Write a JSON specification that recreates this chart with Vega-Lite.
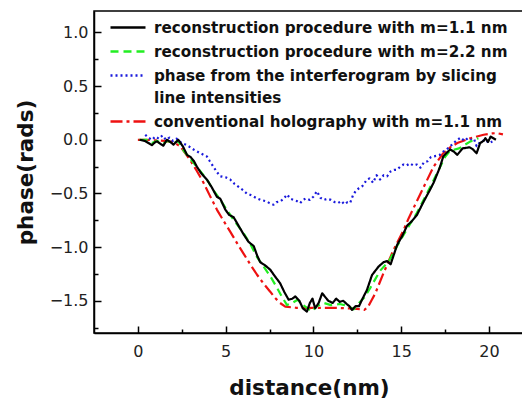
{
  "$schema": "https://vega.github.io/schema/vega-lite/v6.json",
  "width": 430,
  "height": 322,
  "autosize": {"type": "none"},
  "padding": {"left": 94, "top": 11, "right": 0, "bottom": 67},
  "config": {
    "view": {"stroke": "#000000", "strokeWidth": 1.5},
    "font": "DejaVu Sans"
  },
  "datasets": {
    "curves": [
      {"s": "conventional holography with m=1.1 nm", "x": 0, "y": 0},
      {"s": "conventional holography with m=1.1 nm", "x": 0.5, "y": 0},
      {"s": "conventional holography with m=1.1 nm", "x": 1.0, "y": -0.005},
      {"s": "conventional holography with m=1.1 nm", "x": 1.5, "y": -0.01},
      {"s": "conventional holography with m=1.1 nm", "x": 2.0, "y": -0.02},
      {"s": "conventional holography with m=1.1 nm", "x": 2.41, "y": -0.06},
      {"s": "conventional holography with m=1.1 nm", "x": 2.98, "y": -0.19},
      {"s": "conventional holography with m=1.1 nm", "x": 3.36, "y": -0.29},
      {"s": "conventional holography with m=1.1 nm", "x": 3.74, "y": -0.4},
      {"s": "conventional holography with m=1.1 nm", "x": 4.1, "y": -0.52},
      {"s": "conventional holography with m=1.1 nm", "x": 4.5, "y": -0.65},
      {"s": "conventional holography with m=1.1 nm", "x": 4.9, "y": -0.76},
      {"s": "conventional holography with m=1.1 nm", "x": 5.26, "y": -0.855},
      {"s": "conventional holography with m=1.1 nm", "x": 5.64, "y": -0.96},
      {"s": "conventional holography with m=1.1 nm", "x": 6.02, "y": -1.06},
      {"s": "conventional holography with m=1.1 nm", "x": 6.4, "y": -1.16},
      {"s": "conventional holography with m=1.1 nm", "x": 6.78, "y": -1.255},
      {"s": "conventional holography with m=1.1 nm", "x": 7.16, "y": -1.34},
      {"s": "conventional holography with m=1.1 nm", "x": 7.54, "y": -1.415},
      {"s": "conventional holography with m=1.1 nm", "x": 7.8, "y": -1.47},
      {"s": "conventional holography with m=1.1 nm", "x": 8.1, "y": -1.52},
      {"s": "conventional holography with m=1.1 nm", "x": 8.4, "y": -1.555},
      {"s": "conventional holography with m=1.1 nm", "x": 9.0, "y": -1.565},
      {"s": "conventional holography with m=1.1 nm", "x": 10.0, "y": -1.565},
      {"s": "conventional holography with m=1.1 nm", "x": 11.0, "y": -1.565},
      {"s": "conventional holography with m=1.1 nm", "x": 12.0, "y": -1.57},
      {"s": "conventional holography with m=1.1 nm", "x": 12.5, "y": -1.575},
      {"s": "conventional holography with m=1.1 nm", "x": 12.9, "y": -1.585},
      {"s": "conventional holography with m=1.1 nm", "x": 13.1, "y": -1.56},
      {"s": "conventional holography with m=1.1 nm", "x": 13.3, "y": -1.5},
      {"s": "conventional holography with m=1.1 nm", "x": 13.53, "y": -1.43},
      {"s": "conventional holography with m=1.1 nm", "x": 14.0, "y": -1.24},
      {"s": "conventional holography with m=1.1 nm", "x": 14.57, "y": -1.025},
      {"s": "conventional holography with m=1.1 nm", "x": 15.14, "y": -0.84},
      {"s": "conventional holography with m=1.1 nm", "x": 15.43, "y": -0.73},
      {"s": "conventional holography with m=1.1 nm", "x": 15.9, "y": -0.57},
      {"s": "conventional holography with m=1.1 nm", "x": 16.3, "y": -0.435},
      {"s": "conventional holography with m=1.1 nm", "x": 16.85, "y": -0.25},
      {"s": "conventional holography with m=1.1 nm", "x": 17.4, "y": -0.125},
      {"s": "conventional holography with m=1.1 nm", "x": 17.8, "y": -0.07},
      {"s": "conventional holography with m=1.1 nm", "x": 18.2, "y": -0.03},
      {"s": "conventional holography with m=1.1 nm", "x": 18.95, "y": 0.015},
      {"s": "conventional holography with m=1.1 nm", "x": 19.7, "y": 0.047},
      {"s": "conventional holography with m=1.1 nm", "x": 20.2, "y": 0.06},
      {"s": "conventional holography with m=1.1 nm", "x": 20.47, "y": 0.062},
      {"s": "conventional holography with m=1.1 nm", "x": 20.8, "y": 0.05},

      {"s": "phase from the interferogram by slicing line intensities", "x": 0.42, "y": 0.047},
      {"s": "phase from the interferogram by slicing line intensities", "x": 0.6, "y": 0.02},
      {"s": "phase from the interferogram by slicing line intensities", "x": 0.8, "y": 0.0},
      {"s": "phase from the interferogram by slicing line intensities", "x": 1.0, "y": 0.03},
      {"s": "phase from the interferogram by slicing line intensities", "x": 1.2, "y": 0.01},
      {"s": "phase from the interferogram by slicing line intensities", "x": 1.4, "y": 0.04},
      {"s": "phase from the interferogram by slicing line intensities", "x": 1.6, "y": 0.0},
      {"s": "phase from the interferogram by slicing line intensities", "x": 1.8, "y": 0.02},
      {"s": "phase from the interferogram by slicing line intensities", "x": 2.0, "y": -0.01},
      {"s": "phase from the interferogram by slicing line intensities", "x": 2.2, "y": 0.01},
      {"s": "phase from the interferogram by slicing line intensities", "x": 2.5, "y": -0.03},
      {"s": "phase from the interferogram by slicing line intensities", "x": 2.8, "y": -0.05},
      {"s": "phase from the interferogram by slicing line intensities", "x": 3.17, "y": -0.09},
      {"s": "phase from the interferogram by slicing line intensities", "x": 3.5, "y": -0.12},
      {"s": "phase from the interferogram by slicing line intensities", "x": 3.93, "y": -0.155},
      {"s": "phase from the interferogram by slicing line intensities", "x": 4.1, "y": -0.2},
      {"s": "phase from the interferogram by slicing line intensities", "x": 4.3, "y": -0.25},
      {"s": "phase from the interferogram by slicing line intensities", "x": 4.5, "y": -0.3},
      {"s": "phase from the interferogram by slicing line intensities", "x": 4.7, "y": -0.34},
      {"s": "phase from the interferogram by slicing line intensities", "x": 5.0, "y": -0.35},
      {"s": "phase from the interferogram by slicing line intensities", "x": 5.26, "y": -0.37},
      {"s": "phase from the interferogram by slicing line intensities", "x": 5.5, "y": -0.41},
      {"s": "phase from the interferogram by slicing line intensities", "x": 5.83, "y": -0.45},
      {"s": "phase from the interferogram by slicing line intensities", "x": 6.0, "y": -0.47},
      {"s": "phase from the interferogram by slicing line intensities", "x": 6.2, "y": -0.5},
      {"s": "phase from the interferogram by slicing line intensities", "x": 6.5, "y": -0.52},
      {"s": "phase from the interferogram by slicing line intensities", "x": 6.78, "y": -0.545},
      {"s": "phase from the interferogram by slicing line intensities", "x": 7.0, "y": -0.56},
      {"s": "phase from the interferogram by slicing line intensities", "x": 7.35, "y": -0.575},
      {"s": "phase from the interferogram by slicing line intensities", "x": 7.5, "y": -0.59},
      {"s": "phase from the interferogram by slicing line intensities", "x": 7.73, "y": -0.605},
      {"s": "phase from the interferogram by slicing line intensities", "x": 7.9, "y": -0.58},
      {"s": "phase from the interferogram by slicing line intensities", "x": 8.1, "y": -0.575},
      {"s": "phase from the interferogram by slicing line intensities", "x": 8.3, "y": -0.55},
      {"s": "phase from the interferogram by slicing line intensities", "x": 8.5, "y": -0.51},
      {"s": "phase from the interferogram by slicing line intensities", "x": 8.7, "y": -0.55},
      {"s": "phase from the interferogram by slicing line intensities", "x": 8.87, "y": -0.56},
      {"s": "phase from the interferogram by slicing line intensities", "x": 9.05, "y": -0.57},
      {"s": "phase from the interferogram by slicing line intensities", "x": 9.25, "y": -0.59},
      {"s": "phase from the interferogram by slicing line intensities", "x": 9.4, "y": -0.56},
      {"s": "phase from the interferogram by slicing line intensities", "x": 9.6, "y": -0.545},
      {"s": "phase from the interferogram by slicing line intensities", "x": 9.8, "y": -0.56},
      {"s": "phase from the interferogram by slicing line intensities", "x": 10.0, "y": -0.53},
      {"s": "phase from the interferogram by slicing line intensities", "x": 10.2, "y": -0.48},
      {"s": "phase from the interferogram by slicing line intensities", "x": 10.4, "y": -0.54},
      {"s": "phase from the interferogram by slicing line intensities", "x": 10.6, "y": -0.56},
      {"s": "phase from the interferogram by slicing line intensities", "x": 10.8, "y": -0.55},
      {"s": "phase from the interferogram by slicing line intensities", "x": 11.0, "y": -0.56},
      {"s": "phase from the interferogram by slicing line intensities", "x": 11.2, "y": -0.58},
      {"s": "phase from the interferogram by slicing line intensities", "x": 11.4, "y": -0.59},
      {"s": "phase from the interferogram by slicing line intensities", "x": 11.6, "y": -0.57},
      {"s": "phase from the interferogram by slicing line intensities", "x": 11.76, "y": -0.6},
      {"s": "phase from the interferogram by slicing line intensities", "x": 11.95, "y": -0.58},
      {"s": "phase from the interferogram by slicing line intensities", "x": 12.1, "y": -0.585},
      {"s": "phase from the interferogram by slicing line intensities", "x": 12.25, "y": -0.52},
      {"s": "phase from the interferogram by slicing line intensities", "x": 12.4, "y": -0.48},
      {"s": "phase from the interferogram by slicing line intensities", "x": 12.6, "y": -0.45},
      {"s": "phase from the interferogram by slicing line intensities", "x": 12.8, "y": -0.43},
      {"s": "phase from the interferogram by slicing line intensities", "x": 13.05, "y": -0.37},
      {"s": "phase from the interferogram by slicing line intensities", "x": 13.2, "y": -0.36},
      {"s": "phase from the interferogram by slicing line intensities", "x": 13.4, "y": -0.4},
      {"s": "phase from the interferogram by slicing line intensities", "x": 13.6, "y": -0.33},
      {"s": "phase from the interferogram by slicing line intensities", "x": 13.8, "y": -0.37},
      {"s": "phase from the interferogram by slicing line intensities", "x": 14.0, "y": -0.33},
      {"s": "phase from the interferogram by slicing line intensities", "x": 14.2, "y": -0.34},
      {"s": "phase from the interferogram by slicing line intensities", "x": 14.4, "y": -0.295},
      {"s": "phase from the interferogram by slicing line intensities", "x": 14.6, "y": -0.28},
      {"s": "phase from the interferogram by slicing line intensities", "x": 14.76, "y": -0.28},
      {"s": "phase from the interferogram by slicing line intensities", "x": 14.95, "y": -0.25},
      {"s": "phase from the interferogram by slicing line intensities", "x": 15.14, "y": -0.23},
      {"s": "phase from the interferogram by slicing line intensities", "x": 15.3, "y": -0.24},
      {"s": "phase from the interferogram by slicing line intensities", "x": 15.5, "y": -0.22},
      {"s": "phase from the interferogram by slicing line intensities", "x": 15.7, "y": -0.24},
      {"s": "phase from the interferogram by slicing line intensities", "x": 15.9, "y": -0.23},
      {"s": "phase from the interferogram by slicing line intensities", "x": 16.1, "y": -0.26},
      {"s": "phase from the interferogram by slicing line intensities", "x": 16.3, "y": -0.21},
      {"s": "phase from the interferogram by slicing line intensities", "x": 16.5, "y": -0.2},
      {"s": "phase from the interferogram by slicing line intensities", "x": 16.7, "y": -0.16},
      {"s": "phase from the interferogram by slicing line intensities", "x": 17.0, "y": -0.15},
      {"s": "phase from the interferogram by slicing line intensities", "x": 17.2, "y": -0.14},
      {"s": "phase from the interferogram by slicing line intensities", "x": 17.4, "y": -0.11},
      {"s": "phase from the interferogram by slicing line intensities", "x": 17.6, "y": -0.09},
      {"s": "phase from the interferogram by slicing line intensities", "x": 17.8, "y": -0.06},
      {"s": "phase from the interferogram by slicing line intensities", "x": 18.0, "y": -0.03},
      {"s": "phase from the interferogram by slicing line intensities", "x": 18.2, "y": 0.0},
      {"s": "phase from the interferogram by slicing line intensities", "x": 18.4, "y": 0.02},
      {"s": "phase from the interferogram by slicing line intensities", "x": 18.6, "y": -0.01},
      {"s": "phase from the interferogram by slicing line intensities", "x": 18.8, "y": 0.015},
      {"s": "phase from the interferogram by slicing line intensities", "x": 19.0, "y": 0.0},
      {"s": "phase from the interferogram by slicing line intensities", "x": 19.15, "y": 0.01},
      {"s": "phase from the interferogram by slicing line intensities", "x": 19.3, "y": -0.06},
      {"s": "phase from the interferogram by slicing line intensities", "x": 19.5, "y": -0.02},
      {"s": "phase from the interferogram by slicing line intensities", "x": 19.8, "y": 0.0},
      {"s": "phase from the interferogram by slicing line intensities", "x": 20.0, "y": -0.03},
      {"s": "phase from the interferogram by slicing line intensities", "x": 20.2, "y": -0.015},

      {"s": "reconstruction procedure with m=2.2 nm", "x": 0.1, "y": 0},
      {"s": "reconstruction procedure with m=2.2 nm", "x": 0.5, "y": 0.0},
      {"s": "reconstruction procedure with m=2.2 nm", "x": 0.8, "y": -0.03},
      {"s": "reconstruction procedure with m=2.2 nm", "x": 1.1, "y": -0.01},
      {"s": "reconstruction procedure with m=2.2 nm", "x": 1.4, "y": -0.04},
      {"s": "reconstruction procedure with m=2.2 nm", "x": 1.7, "y": -0.01},
      {"s": "reconstruction procedure with m=2.2 nm", "x": 2.0, "y": -0.03},
      {"s": "reconstruction procedure with m=2.2 nm", "x": 2.3, "y": -0.01},
      {"s": "reconstruction procedure with m=2.2 nm", "x": 2.6, "y": -0.1},
      {"s": "reconstruction procedure with m=2.2 nm", "x": 3.0, "y": -0.18},
      {"s": "reconstruction procedure with m=2.2 nm", "x": 3.5, "y": -0.28},
      {"s": "reconstruction procedure with m=2.2 nm", "x": 3.93, "y": -0.37},
      {"s": "reconstruction procedure with m=2.2 nm", "x": 4.3, "y": -0.47},
      {"s": "reconstruction procedure with m=2.2 nm", "x": 4.7, "y": -0.56},
      {"s": "reconstruction procedure with m=2.2 nm", "x": 5.1, "y": -0.66},
      {"s": "reconstruction procedure with m=2.2 nm", "x": 5.45, "y": -0.745},
      {"s": "reconstruction procedure with m=2.2 nm", "x": 6.02, "y": -0.87},
      {"s": "reconstruction procedure with m=2.2 nm", "x": 6.4, "y": -0.97},
      {"s": "reconstruction procedure with m=2.2 nm", "x": 6.78, "y": -1.09},
      {"s": "reconstruction procedure with m=2.2 nm", "x": 7.16, "y": -1.18},
      {"s": "reconstruction procedure with m=2.2 nm", "x": 7.54, "y": -1.27},
      {"s": "reconstruction procedure with m=2.2 nm", "x": 7.9, "y": -1.37},
      {"s": "reconstruction procedure with m=2.2 nm", "x": 8.2, "y": -1.46},
      {"s": "reconstruction procedure with m=2.2 nm", "x": 8.5, "y": -1.54},
      {"s": "reconstruction procedure with m=2.2 nm", "x": 8.8, "y": -1.52},
      {"s": "reconstruction procedure with m=2.2 nm", "x": 9.1, "y": -1.49},
      {"s": "reconstruction procedure with m=2.2 nm", "x": 9.5, "y": -1.55},
      {"s": "reconstruction procedure with m=2.2 nm", "x": 9.9, "y": -1.6},
      {"s": "reconstruction procedure with m=2.2 nm", "x": 10.2, "y": -1.55},
      {"s": "reconstruction procedure with m=2.2 nm", "x": 10.6, "y": -1.52},
      {"s": "reconstruction procedure with m=2.2 nm", "x": 11.0, "y": -1.54},
      {"s": "reconstruction procedure with m=2.2 nm", "x": 11.5, "y": -1.53},
      {"s": "reconstruction procedure with m=2.2 nm", "x": 12.0, "y": -1.55},
      {"s": "reconstruction procedure with m=2.2 nm", "x": 12.3, "y": -1.58},
      {"s": "reconstruction procedure with m=2.2 nm", "x": 12.6, "y": -1.52},
      {"s": "reconstruction procedure with m=2.2 nm", "x": 12.9, "y": -1.47},
      {"s": "reconstruction procedure with m=2.2 nm", "x": 13.24, "y": -1.38},
      {"s": "reconstruction procedure with m=2.2 nm", "x": 13.8, "y": -1.22},
      {"s": "reconstruction procedure with m=2.2 nm", "x": 14.3, "y": -1.13},
      {"s": "reconstruction procedure with m=2.2 nm", "x": 14.77, "y": -0.99},
      {"s": "reconstruction procedure with m=2.2 nm", "x": 15.34, "y": -0.83},
      {"s": "reconstruction procedure with m=2.2 nm", "x": 15.9, "y": -0.68},
      {"s": "reconstruction procedure with m=2.2 nm", "x": 16.47, "y": -0.5},
      {"s": "reconstruction procedure with m=2.2 nm", "x": 17.05, "y": -0.31},
      {"s": "reconstruction procedure with m=2.2 nm", "x": 17.52, "y": -0.155},
      {"s": "reconstruction procedure with m=2.2 nm", "x": 17.8, "y": -0.1},
      {"s": "reconstruction procedure with m=2.2 nm", "x": 18.3, "y": -0.08},
      {"s": "reconstruction procedure with m=2.2 nm", "x": 18.95, "y": -0.015},
      {"s": "reconstruction procedure with m=2.2 nm", "x": 19.4, "y": 0.015},

      {"s": "reconstruction procedure with m=1.1 nm", "x": 0.1, "y": 0},
      {"s": "reconstruction procedure with m=1.1 nm", "x": 0.4, "y": -0.01},
      {"s": "reconstruction procedure with m=1.1 nm", "x": 0.6, "y": -0.03},
      {"s": "reconstruction procedure with m=1.1 nm", "x": 0.8, "y": -0.05},
      {"s": "reconstruction procedure with m=1.1 nm", "x": 1.0, "y": -0.02},
      {"s": "reconstruction procedure with m=1.1 nm", "x": 1.1, "y": -0.015},
      {"s": "reconstruction procedure with m=1.1 nm", "x": 1.3, "y": -0.04},
      {"s": "reconstruction procedure with m=1.1 nm", "x": 1.45, "y": -0.055},
      {"s": "reconstruction procedure with m=1.1 nm", "x": 1.65, "y": 0},
      {"s": "reconstruction procedure with m=1.1 nm", "x": 1.85, "y": -0.02},
      {"s": "reconstruction procedure with m=1.1 nm", "x": 2.03, "y": -0.045},
      {"s": "reconstruction procedure with m=1.1 nm", "x": 2.3, "y": 0},
      {"s": "reconstruction procedure with m=1.1 nm", "x": 2.56, "y": -0.06},
      {"s": "reconstruction procedure with m=1.1 nm", "x": 2.8, "y": -0.14},
      {"s": "reconstruction procedure with m=1.1 nm", "x": 3.0, "y": -0.16},
      {"s": "reconstruction procedure with m=1.1 nm", "x": 3.2, "y": -0.2},
      {"s": "reconstruction procedure with m=1.1 nm", "x": 3.36, "y": -0.25},
      {"s": "reconstruction procedure with m=1.1 nm", "x": 3.6, "y": -0.31},
      {"s": "reconstruction procedure with m=1.1 nm", "x": 3.93, "y": -0.37},
      {"s": "reconstruction procedure with m=1.1 nm", "x": 4.2, "y": -0.44},
      {"s": "reconstruction procedure with m=1.1 nm", "x": 4.5, "y": -0.53},
      {"s": "reconstruction procedure with m=1.1 nm", "x": 4.7, "y": -0.55},
      {"s": "reconstruction procedure with m=1.1 nm", "x": 4.98, "y": -0.65},
      {"s": "reconstruction procedure with m=1.1 nm", "x": 5.2, "y": -0.7},
      {"s": "reconstruction procedure with m=1.1 nm", "x": 5.45, "y": -0.72},
      {"s": "reconstruction procedure with m=1.1 nm", "x": 5.7, "y": -0.79},
      {"s": "reconstruction procedure with m=1.1 nm", "x": 6.02, "y": -0.88},
      {"s": "reconstruction procedure with m=1.1 nm", "x": 6.3, "y": -0.95},
      {"s": "reconstruction procedure with m=1.1 nm", "x": 6.6, "y": -0.99},
      {"s": "reconstruction procedure with m=1.1 nm", "x": 6.8, "y": -1.08},
      {"s": "reconstruction procedure with m=1.1 nm", "x": 6.97, "y": -1.14},
      {"s": "reconstruction procedure with m=1.1 nm", "x": 7.25, "y": -1.17},
      {"s": "reconstruction procedure with m=1.1 nm", "x": 7.54, "y": -1.21},
      {"s": "reconstruction procedure with m=1.1 nm", "x": 7.8, "y": -1.27},
      {"s": "reconstruction procedure with m=1.1 nm", "x": 8.1, "y": -1.335},
      {"s": "reconstruction procedure with m=1.1 nm", "x": 8.35, "y": -1.42},
      {"s": "reconstruction procedure with m=1.1 nm", "x": 8.59, "y": -1.49},
      {"s": "reconstruction procedure with m=1.1 nm", "x": 8.8, "y": -1.48},
      {"s": "reconstruction procedure with m=1.1 nm", "x": 8.97, "y": -1.46},
      {"s": "reconstruction procedure with m=1.1 nm", "x": 9.2, "y": -1.5},
      {"s": "reconstruction procedure with m=1.1 nm", "x": 9.4, "y": -1.57},
      {"s": "reconstruction procedure with m=1.1 nm", "x": 9.63, "y": -1.6},
      {"s": "reconstruction procedure with m=1.1 nm", "x": 9.8, "y": -1.52},
      {"s": "reconstruction procedure with m=1.1 nm", "x": 9.95, "y": -1.48},
      {"s": "reconstruction procedure with m=1.1 nm", "x": 10.1, "y": -1.57},
      {"s": "reconstruction procedure with m=1.1 nm", "x": 10.3, "y": -1.52},
      {"s": "reconstruction procedure with m=1.1 nm", "x": 10.5, "y": -1.43},
      {"s": "reconstruction procedure with m=1.1 nm", "x": 10.7, "y": -1.47},
      {"s": "reconstruction procedure with m=1.1 nm", "x": 10.85, "y": -1.5},
      {"s": "reconstruction procedure with m=1.1 nm", "x": 11.1, "y": -1.52},
      {"s": "reconstruction procedure with m=1.1 nm", "x": 11.3, "y": -1.48},
      {"s": "reconstruction procedure with m=1.1 nm", "x": 11.5, "y": -1.51},
      {"s": "reconstruction procedure with m=1.1 nm", "x": 11.7, "y": -1.5},
      {"s": "reconstruction procedure with m=1.1 nm", "x": 11.9, "y": -1.53},
      {"s": "reconstruction procedure with m=1.1 nm", "x": 12.05, "y": -1.55},
      {"s": "reconstruction procedure with m=1.1 nm", "x": 12.2, "y": -1.585},
      {"s": "reconstruction procedure with m=1.1 nm", "x": 12.4, "y": -1.55},
      {"s": "reconstruction procedure with m=1.1 nm", "x": 12.6, "y": -1.55},
      {"s": "reconstruction procedure with m=1.1 nm", "x": 12.77, "y": -1.49},
      {"s": "reconstruction procedure with m=1.1 nm", "x": 13.05, "y": -1.4},
      {"s": "reconstruction procedure with m=1.1 nm", "x": 13.34, "y": -1.26},
      {"s": "reconstruction procedure with m=1.1 nm", "x": 13.72, "y": -1.18},
      {"s": "reconstruction procedure with m=1.1 nm", "x": 14.0, "y": -1.14},
      {"s": "reconstruction procedure with m=1.1 nm", "x": 14.2, "y": -1.13},
      {"s": "reconstruction procedure with m=1.1 nm", "x": 14.4, "y": -1.16},
      {"s": "reconstruction procedure with m=1.1 nm", "x": 14.77, "y": -0.98},
      {"s": "reconstruction procedure with m=1.1 nm", "x": 15.05, "y": -0.9},
      {"s": "reconstruction procedure with m=1.1 nm", "x": 15.34, "y": -0.8},
      {"s": "reconstruction procedure with m=1.1 nm", "x": 15.6, "y": -0.76},
      {"s": "reconstruction procedure with m=1.1 nm", "x": 15.9, "y": -0.7},
      {"s": "reconstruction procedure with m=1.1 nm", "x": 16.3, "y": -0.57},
      {"s": "reconstruction procedure with m=1.1 nm", "x": 16.6, "y": -0.48},
      {"s": "reconstruction procedure with m=1.1 nm", "x": 16.85, "y": -0.4},
      {"s": "reconstruction procedure with m=1.1 nm", "x": 17.2, "y": -0.26},
      {"s": "reconstruction procedure with m=1.1 nm", "x": 17.4, "y": -0.155},
      {"s": "reconstruction procedure with m=1.1 nm", "x": 17.6, "y": -0.12},
      {"s": "reconstruction procedure with m=1.1 nm", "x": 17.8, "y": -0.09},
      {"s": "reconstruction procedure with m=1.1 nm", "x": 18.0, "y": -0.11},
      {"s": "reconstruction procedure with m=1.1 nm", "x": 18.2, "y": -0.14},
      {"s": "reconstruction procedure with m=1.1 nm", "x": 18.5, "y": -0.08},
      {"s": "reconstruction procedure with m=1.1 nm", "x": 18.9, "y": -0.07},
      {"s": "reconstruction procedure with m=1.1 nm", "x": 19.1, "y": -0.09},
      {"s": "reconstruction procedure with m=1.1 nm", "x": 19.3, "y": -0.125},
      {"s": "reconstruction procedure with m=1.1 nm", "x": 19.5, "y": -0.03},
      {"s": "reconstruction procedure with m=1.1 nm", "x": 19.7, "y": -0.01},
      {"s": "reconstruction procedure with m=1.1 nm", "x": 19.8, "y": 0.015},
      {"s": "reconstruction procedure with m=1.1 nm", "x": 19.95, "y": -0.02},
      {"s": "reconstruction procedure with m=1.1 nm", "x": 20.1, "y": 0.03},
      {"s": "reconstruction procedure with m=1.1 nm", "x": 20.4, "y": 0.0}
    ]
  },
  "data": {"name": "curves"},
  "layer": [
    {
      "mark": {"type": "line", "strokeWidth": 2.2, "strokeCap": "butt", "strokeJoin": "round"},
      "encoding": {
        "x": {
          "field": "x", "type": "quantitative",
          "scale": {"domain": [-2.5, 22], "nice": false, "zero": false},
          "axis": {
            "orient": "bottom", "values": [0, 5, 10, 15, 20], "grid": false,
            "tickSize": -7, "tickWidth": 1.5, "tickColor": "#000000",
            "domainColor": "#000000", "domainWidth": 1.5,
            "labelFont": "DejaVu Sans", "labelFontSize": 16, "labelColor": "#222222",
            "labelPadding": 17, "labelBaseline": "top",
            "title": "distance(nm)", "titleFont": "DejaVu Sans", "titleFontSize": 21.5,
            "titleFontWeight": "bold", "titleColor": "#111111",
            "titleBaseline": "alphabetic", "titleY": 61
          }
        },
        "y": {
          "field": "y", "type": "quantitative",
          "scale": {"domain": [-1.8, 1.2], "nice": false, "zero": false},
          "axis": {
            "orient": "left", "values": [-1.5, -1, -0.5, 0, 0.5, 1], "format": ".1f", "grid": false,
            "tickSize": -7, "tickWidth": 1.5, "tickColor": "#000000",
            "domainColor": "#000000", "domainWidth": 1.5,
            "labelFont": "DejaVu Sans", "labelFontSize": 16, "labelColor": "#222222",
            "labelPadding": 13,
            "title": "phase(rads)", "titleFont": "DejaVu Sans", "titleFontSize": 21.5,
            "titleFontWeight": "bold", "titleColor": "#111111",
            "titleBaseline": "alphabetic", "titleX": -62
          }
        },
        "color": {
          "field": "s", "type": "nominal",
          "scale": {
            "domain": ["reconstruction procedure with m=1.1 nm", "reconstruction procedure with m=2.2 nm", "phase from the interferogram by slicing line intensities", "conventional holography with m=1.1 nm"],
            "range": ["#000000", "#22ee22", "#1a1adc", "#ee1111"]
          },
          "legend": {
            "title": null, "orient": "none", "legendX": 15, "legendY": 8.5, "padding": 0,
            "symbolType": "stroke", "symbolSize": 1225, "symbolStrokeWidth": 2.5, "clipHeight": 16,
            "labelFont": "DejaVu Sans", "labelFontSize": 15.2, "labelFontWeight": "bold",
            "labelColor": "#111111", "labelOffset": 7, "labelLimit": 0, "rowPadding": 7,
            "labelExpr": "datum.label == 'phase from the interferogram by slicing line intensities' ? ['phase from the interferogram by slicing', 'line intensities'] : datum.label",
            "encode": {"labels": {"update": {"lineHeight": {"value": 22.4}}}}
          }
        },
        "strokeDash": {
          "field": "s", "type": "nominal",
          "scale": {
            "domain": ["reconstruction procedure with m=1.1 nm", "reconstruction procedure with m=2.2 nm", "phase from the interferogram by slicing line intensities", "conventional holography with m=1.1 nm"],
            "range": [[1, 0], [8, 5], [2, 3], [12, 4, 3, 4]]
          },
          "legend": {
            "title": null, "orient": "none", "legendX": 15, "legendY": 8.5, "padding": 0,
            "symbolType": "stroke", "symbolSize": 1225, "symbolStrokeWidth": 2.5, "clipHeight": 16,
            "labelFont": "DejaVu Sans", "labelFontSize": 15.2, "labelFontWeight": "bold",
            "labelColor": "#111111", "labelOffset": 7, "labelLimit": 0, "rowPadding": 7,
            "labelExpr": "datum.label == 'phase from the interferogram by slicing line intensities' ? ['phase from the interferogram by slicing', 'line intensities'] : datum.label",
            "encode": {"labels": {"update": {"lineHeight": {"value": 22.4}}}}
          }
        }
      }
    },
    {
      "mark": {"type": "line", "opacity": 0},
      "encoding": {
        "x": {
          "field": "x", "type": "quantitative",
          "scale": {"domain": [-2.5, 22], "nice": false, "zero": false},
          "axis": {"orient": "bottom", "values": [2.5, 7.5, 12.5, 17.5], "grid": false, "labels": false, "domain": false, "title": null, "tickSize": -4, "tickWidth": 1.5, "tickColor": "#000000"}
        },
        "y": {
          "field": "y", "type": "quantitative",
          "scale": {"domain": [-1.8, 1.2], "nice": false, "zero": false},
          "axis": {"orient": "left", "values": [-1.75, -1.25, -0.75, -0.25, 0.25, 0.75], "grid": false, "labels": false, "domain": false, "title": null, "tickSize": -4, "tickWidth": 1.5, "tickColor": "#000000"}
        },
        "detail": {"field": "s", "type": "nominal"}
      }
    }
  ],
  "resolve": {"axis": {"x": "independent", "y": "independent"}}
}
